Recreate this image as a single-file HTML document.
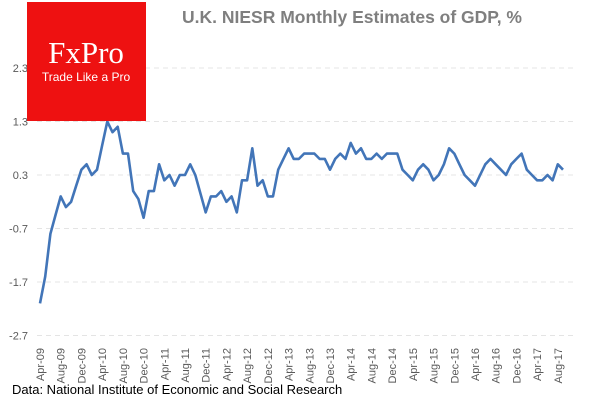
<!DOCTYPE html>
<html><head><meta charset="utf-8"><style>
body{margin:0;background:#fff;width:600px;height:401px;overflow:hidden;font-family:"Liberation Sans",sans-serif}
svg text{font-family:"Liberation Sans",sans-serif}
</style></head><body>
<svg id="chart" width="600" height="401">
<text x="352" y="23" text-anchor="middle" font-size="17.5" font-weight="bold" fill="#7f7f7f">U.K. NIESR Monthly  Estimates  of GDP, %</text>
<g id="grid"></g><g id="yaxis"></g><g id="xaxis"></g>
<path id="line" fill="none" stroke="#4275b8" stroke-width="2.6" stroke-linejoin="round"/>
<g>
<rect x="27" y="2" width="119" height="119" fill="#ee1111"/>
<text x="86" y="63" text-anchor="middle" font-size="31" fill="#fff" style="font-family:'Liberation Serif',serif">FxPro</text>
<text x="86" y="81" text-anchor="middle" font-size="12" fill="#fff">Trade Like a Pro</text>
</g>
<text x="12" y="394" font-size="13" fill="#000">Data: National Institute of Economic and Social Research</text>
</svg>
<script>
const values=[-2.1,-1.6,-0.8,-0.45,-0.1,-0.3,-0.2,0.1,0.4,0.5,0.3,0.4,0.85,1.3,1.1,1.2,0.7,0.7,0.0,-0.15,-0.5,0,0,0.5,0.2,0.3,0.1,0.3,0.3,0.5,0.3,-0.05,-0.4,-0.1,-0.1,0,-0.2,-0.1,-0.4,0.2,0.2,0.8,0.1,0.2,-0.1,-0.1,0.4,0.6,0.8,0.6,0.6,0.7,0.7,0.7,0.6,0.6,0.4,0.6,0.7,0.6,0.9,0.7,0.8,0.6,0.6,0.7,0.6,0.7,0.7,0.7,0.4,0.3,0.2,0.4,0.5,0.4,0.2,0.3,0.5,0.8,0.7,0.5,0.3,0.2,0.1,0.3,0.5,0.6,0.5,0.4,0.3,0.5,0.6,0.7,0.4,0.3,0.2,0.2,0.3,0.2,0.5,0.4];
const yTicks=[2.3,1.3,0.3,-0.7,-1.7,-2.7];
const xLabels=["Apr-09","Aug-09","Dec-09","Apr-10","Aug-10","Dec-10","Apr-11","Aug-11","Dec-11","Apr-12","Aug-12","Dec-12","Apr-13","Aug-13","Dec-13","Apr-14","Aug-14","Dec-14","Apr-15","Aug-15","Dec-15","Apr-16","Aug-16","Dec-16","Apr-17","Aug-17"];
const NS="http://www.w3.org/2000/svg";
const y=v=>175-(v-0.3)*53.5;
const step=(563-40)/(values.length-1);
const x=i=>40+i*step;
const grid=document.getElementById('grid'),ya=document.getElementById('yaxis'),xa=document.getElementById('xaxis');
yTicks.forEach(t=>{
 const l=document.createElementNS(NS,'line');
 
 
 l.setAttribute('x1',37);l.setAttribute('x2',573);l.setAttribute('y1',y(t));l.setAttribute('y2',y(t));
 l.setAttribute('stroke','#e4e4e4');l.setAttribute('stroke-dasharray','5,4');l.setAttribute('stroke-width','1');
 grid.appendChild(l);
 const tx=document.createElementNS(NS,'text');
 
 
 tx.setAttribute('x',28);tx.setAttribute('y',y(t)+4);tx.setAttribute('text-anchor','end');
 tx.setAttribute('font-size','11');tx.setAttribute('fill','#595959');tx.textContent=t.toFixed(1);
 ya.appendChild(tx);
});
xLabels.forEach((s,k)=>{
 const tx=document.createElementNS(NS,'text');
 
 
 const px=x(k*4)+4, py=348;
 tx.setAttribute('x',px);tx.setAttribute('y',py);tx.setAttribute('text-anchor','end');
 tx.setAttribute('transform','rotate(-90 '+px+' '+py+')');
 tx.setAttribute('font-size','11');tx.setAttribute('fill','#595959');tx.textContent=s;
 xa.appendChild(tx);
});
document.getElementById('line').setAttribute('d',values.map((v,i)=>(i?'L':'M')+x(i).toFixed(1)+' '+y(v).toFixed(1)).join(''));
</script>
</body></html>
